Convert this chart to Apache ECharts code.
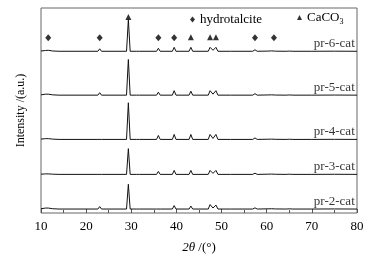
<!DOCTYPE html>
<html>
<head>
<meta charset="utf-8">
<script src="https://cdn.jsdelivr.net/npm/echarts@6/dist/echarts.min.js"></script>
<style>
  body { margin: 0; background: #fff; }
  #main { width: 375px; height: 259px; }
</style>
</head>
<body>
<div id="main"></div>
<script>
// 2theta points of the patterns (deg)
var twoTheta = [10.0, 11.0, 11.6, 12.6, 14.0, 22.6, 23.0, 23.4, 28.95, 29.35, 29.75, 31.2, 31.5, 31.8,
  35.6, 36.0, 36.4, 39.1, 39.5, 39.9, 42.8, 43.2, 43.6, 47.05, 47.45, 48.1, 48.75, 49.2, 52.0,
  56.9, 57.4, 57.9, 60.3, 60.7, 61.1, 61.5, 62.0, 64.3, 64.7, 65.0, 65.4, 65.8, 70.0, 75.0, 80.0]

// intensities (a.u.), one per 2theta point
var pr6 = [0.3, 0.8, 1.0, 0.3, 0, 0, 2.5, 0, 0, 32, 0, 0, 0.6, 0,
  0, 3, 0, 0, 4, 0, 0, 4, 0, 0, 4, 1, 4, 0, 0,
  0, 1.5, 0, 0.2, 1, 0.4, 0.8, 0.1, 0, 0.8, 0.2, 0.7, 0, 0, 0.1, 0]
var pr5 = [0.3, 1.0, 1.0, 0.3, 0, 0, 2.5, 0, 0, 36, 0, 0, 0.6, 0,
  0, 3, 0, 0, 4.5, 0, 0, 4, 0, 0, 4.5, 1, 4.5, 0, 0,
  0, 1.5, 0, 0.2, 1, 0.3, 0.8, 0.1, 0, 0.8, 0.2, 0.7, 0, 0, 0.1, 0]
var pr4 = [0.3, 0.8, 0.8, 0.3, 0, 0, 2, 0, 0, 37, 0, 0, 0.5, 0,
  0, 4, 0, 0, 5, 0, 0, 5, 0, 0, 5, 1, 5, 0, 0,
  0, 1.5, 0, 0.2, 1, 0.3, 0.7, 0.1, 0, 0.7, 0.2, 0.6, 0, 0, 0.1, 0]
var pr3 = [0.2, 0.5, 0.5, 0.2, 0, 0, 2, 0, 0, 26, 0, 0, 0.5, 0,
  0, 3, 0, 0, 4, 0, 0, 4, 0, 0, 4, 1, 4, 0, 0,
  0, 1.2, 0, 0.2, 0.8, 0.3, 0.6, 0.1, 0, 0.6, 0.2, 0.5, 0, 0, 0.1, 0]
var pr2 = [0.3, 1.0, 1.0, 0.3, 0, 0, 2.5, 0, 0, 25, 0, 0, 0.5, 0,
  0, 2, 0, 0, 3.5, 0, 0, 3, 0, 0, 4.5, 1, 4, 0, 0,
  0, 1.2, 0, 0.2, 0.8, 0.3, 0.6, 0.1, 0, 0.6, 0.2, 0.5, 0, 0, 0.1, 0]

var sampleNames = ['pr-6-cat', 'pr-5-cat', 'pr-4-cat', 'pr-3-cat', 'pr-2-cat']
var sampleOffsets = [163.3, 119, 74.3, 39, 4]

// phase markers above pr-6-cat
var hydrotalciteX = [11.6, 23.0, 36.0, 39.5, 57.4, 61.6]
var hydrotalciteY = [177, 177, 177, 177, 177, 177]
var caco3X = [29.35, 43.2, 47.45, 48.75]
var caco3Y = [198, 177.5, 177.5, 177.5]

var xTicks = [10, 20, 30, 40, 50, 60, 70, 80]

function pattern(values, offset) {
  var pts = []
  for (var i = 0; i < twoTheta.length; i++) {
    pts.push([twoTheta[i], values[i] + offset])
  }
  return pts
}

function pairs(xs, ys) {
  var pts = []
  for (var i = 0; i < xs.length; i++) pts.push([xs[i], ys[i]])
  return pts
}

function main() {
  var myChart = echarts.init(document.getElementById('main'))
  var font = 'Liberation Serif, Times New Roman, serif'
  var all = [pr6, pr5, pr4, pr3, pr2]
  var series = []
  for (var k = 0; k < all.length; k++) {
    series.push({
      name: sampleNames[k],
      type: 'line',
      data: pattern(all[k], sampleOffsets[k]),
      showSymbol: false,
      symbol: 'none',
      lineStyle: { width: 1, color: '#111' },
      silent: true
    })
  }
  var labelPts = []
  for (var j = 0; j < sampleNames.length; j++) {
    labelPts.push({ name: sampleNames[j], value: [79.5, sampleOffsets[j] + 8] })
  }
  series.push({
    name: 'labels',
    type: 'scatter',
    symbolSize: 0,
    data: labelPts,
    label: {
      show: true, position: 'left', distance: 0, formatter: '{b}',
      color: '#000', fontSize: 13, fontFamily: font
    }
  })
  series.push({
    name: 'hydrotalcite',
    type: 'scatter',
    symbol: 'diamond',
    symbolSize: [6, 7],
    itemStyle: { color: '#000' },
    data: pairs(hydrotalciteX, hydrotalciteY)
  })
  series.push({
    name: 'CaCO3',
    type: 'scatter',
    symbol: 'triangle',
    symbolSize: [6, 6],
    itemStyle: { color: '#000' },
    data: pairs(caco3X, caco3Y)
  })

  var option = {
    animation: false,
    textStyle: { fontFamily: font },
    grid: { left: 41, right: 18, top: 8, bottom: 44, show: true, borderColor: '#666', borderWidth: 1 },
    legend: [{
      data: ['hydrotalcite'],
      left: 185, top: 8,
      itemWidth: 5, itemHeight: 6,
      textStyle: { fontSize: 13, color: '#000', fontFamily: font }
    }, {
      data: ['CaCO3'],
      left: 292, top: 6,
      itemWidth: 5, itemHeight: 5,
      formatter: function () { return 'CaCO{s|3}' },
      textStyle: {
        fontSize: 13, color: '#000', fontFamily: font,
        rich: { s: { fontSize: 8, fontFamily: font, color: '#000', padding: [8, 0, 0, 0] } }
      }
    }],
    xAxis: {
      type: 'value',
      min: 10, max: 80, interval: 10,
      name: '{i|2θ} /(°)',
      nameLocation: 'middle',
      nameGap: 28,
      nameTextStyle: {
        fontSize: 13, color: '#000', fontFamily: font,
        rich: { i: { fontStyle: 'italic', fontSize: 13, fontFamily: font, color: '#000' } }
      },
      axisLine: { show: false },
      axisTick: { inside: true, length: 4, lineStyle: { color: '#555' } },
      minorTick: { show: true, splitNumber: 2, length: 3, lineStyle: { color: '#555' } },
      splitLine: { show: false },
      axisLabel: {
        margin: 7, color: '#000', fontSize: 13, fontFamily: font,
        customValues: xTicks
      }
    },
    yAxis: {
      type: 'value',
      min: 0, max: 207,
      name: 'Intensity /(a.u.)',
      nameLocation: 'middle',
      nameGap: 14,
      nameTextStyle: { fontSize: 12, color: '#000', fontFamily: font },
      axisLine: { show: false },
      axisTick: { show: false },
      axisLabel: { show: false },
      splitLine: { show: false }
    },
    series: series
  }
  myChart.setOption(option)
}

window.onload = main
</script>
</body>
</html>
